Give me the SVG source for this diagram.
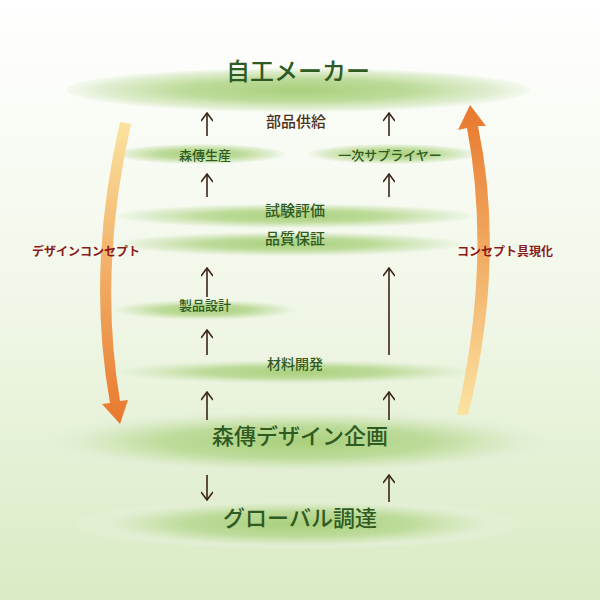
<svg xmlns="http://www.w3.org/2000/svg" width="600" height="600" viewBox="0 0 600 600">
<defs>
<linearGradient id="bg" x1="0" y1="0" x2="0" y2="1"><stop offset="0" stop-color="#ffffff"/><stop offset="0.5" stop-color="#f1f7e8"/><stop offset="1" stop-color="#d9ebc4"/></linearGradient>
<radialGradient id="el"><stop offset="0" stop-color="#a9d07c"/><stop offset="0.5" stop-color="#bddb9a"/><stop offset="0.7" stop-color="#d3e7bb"/><stop offset="0.85" stop-color="#e1eed2"/><stop offset="1" stop-color="#e6f1da" stop-opacity="0.3"/></radialGradient>
<linearGradient id="gl" x1="0" y1="0" x2="0" y2="1"><stop offset="0" stop-color="#fbe3a0"/><stop offset="1" stop-color="#e8782c"/></linearGradient>
<linearGradient id="gr" x1="0" y1="1" x2="0" y2="0"><stop offset="0" stop-color="#fbe3a0"/><stop offset="1" stop-color="#e8782c"/></linearGradient>
<marker id="ah" viewBox="0 0 10 12" refX="9" refY="6" markerWidth="10" markerHeight="12" markerUnits="userSpaceOnUse" orient="auto"><path d="M1,0 L9,6 L1,12" fill="none" stroke="#3a2418" stroke-width="1.6"/></marker>
<style>
.n{font-family:"Noto Sans CJK JP",sans-serif;fill:#2f5a22;text-anchor:middle;font-weight:500}
.b{font-family:"Noto Sans CJK JP",sans-serif;fill:#4a3020;text-anchor:middle;font-weight:500}
.s{font-family:"Noto Sans CJK JP",sans-serif;fill:#8a1a1a;font-weight:bold;font-size:12px;text-anchor:middle}
.a{stroke:#3a2418;stroke-width:1.6;fill:none}
</style>
</defs>
<rect width="600" height="600" fill="url(#bg)"/>
<g id="n1"><ellipse cx="298" cy="90" rx="232" ry="22" fill="url(#el)"/><text class="n" x="298" y="80" font-size="24">自工メーカー</text></g>
<g id="n2"><text class="b" x="296" y="127" font-size="15">部品供給</text></g>
<g id="n3"><ellipse cx="200" cy="154" rx="85" ry="10" fill="url(#el)"/><text class="n" x="205" y="160" font-size="13">森傳生産</text></g>
<g id="n4"><ellipse cx="393" cy="154" rx="85" ry="10" fill="url(#el)"/><text class="n" x="390" y="160" font-size="13">一次サプライヤー</text></g>
<g id="n5"><ellipse cx="295" cy="216" rx="178" ry="12" fill="url(#el)"/><text class="n" x="295" y="216" font-size="15">試験評価</text></g>
<g id="n6"><ellipse cx="290" cy="244" rx="172" ry="12" fill="url(#el)"/><text class="n" x="295" y="244" font-size="15">品質保証</text></g>
<g id="n7"><ellipse cx="205" cy="310" rx="92" ry="10" fill="url(#el)"/><text class="n" x="205" y="310" font-size="13">製品設計</text></g>
<g id="n8"><ellipse cx="295" cy="372" rx="182" ry="12" fill="url(#el)"/><text class="n" x="295" y="369" font-size="14">材料開発</text></g>
<g id="n9"><ellipse cx="298" cy="442" rx="262" ry="32" fill="url(#el)"/><text class="n" x="300" y="444" font-size="22">森傳デザイン企画</text></g>
<g id="n10"><ellipse cx="298" cy="524" rx="222" ry="25" fill="url(#el)"/><text class="n" x="300" y="526" font-size="22">グローバル調達</text></g>
<g id="connectors">
<line class="a" x1="207" y1="136" x2="207" y2="113" marker-end="url(#ah)"/>
<line class="a" x1="389" y1="136" x2="389" y2="113" marker-end="url(#ah)"/>
<line class="a" x1="207" y1="197" x2="207" y2="174" marker-end="url(#ah)"/>
<line class="a" x1="389" y1="197" x2="389" y2="174" marker-end="url(#ah)"/>
<line class="a" x1="207" y1="297" x2="207" y2="268" marker-end="url(#ah)"/>
<line class="a" x1="389" y1="355" x2="389" y2="268" marker-end="url(#ah)"/>
<line class="a" x1="207" y1="355" x2="207" y2="330" marker-end="url(#ah)"/>
<line class="a" x1="207" y1="420" x2="207" y2="392" marker-end="url(#ah)"/>
<line class="a" x1="389" y1="420" x2="389" y2="392" marker-end="url(#ah)"/>
<line class="a" x1="207" y1="475" x2="207" y2="500" marker-end="url(#ah)"/>
<line class="a" x1="389" y1="502" x2="389" y2="475" marker-end="url(#ah)"/>
<path d="M120,122 Q86,270 110,403 L102,404 L120,424 L128,400 L120,401 Q98,270 131,124 Z" fill="url(#gl)"/>
<path d="M468,415 Q506,260 478,126 L486,126 L470,105 L458,130 L467,128 Q492,260 457,415 Z" fill="url(#gr)"/>
</g>
<text class="s" x="86" y="256">デザインコンセプト</text>
<text class="s" x="505" y="256">コンセプト具現化</text>
</svg>
